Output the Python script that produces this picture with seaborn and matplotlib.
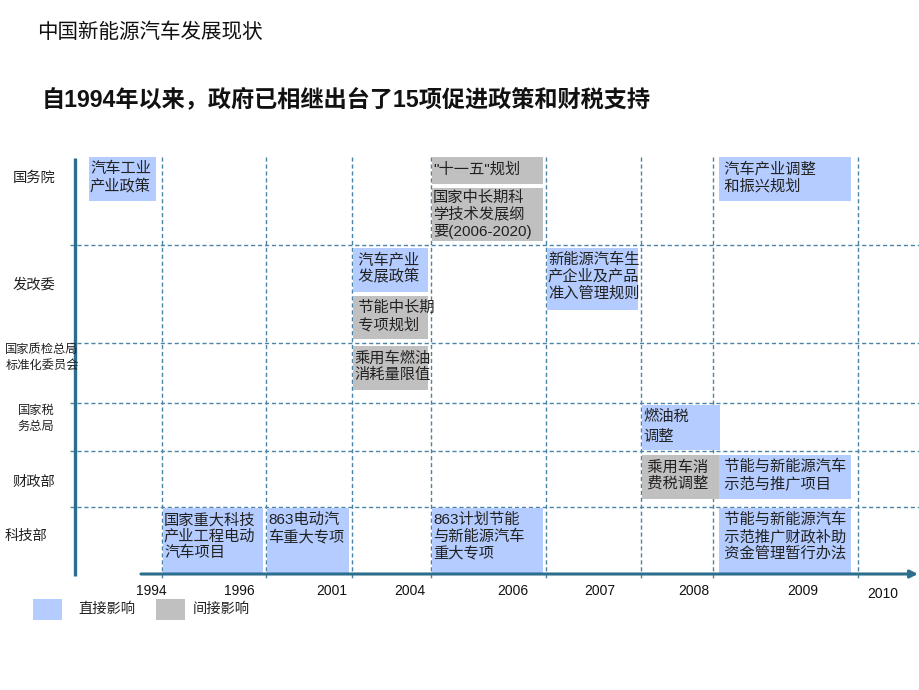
import matplotlib
matplotlib.use("Agg")
import matplotlib.pyplot as plt
import seaborn as sns
import pandas as pd

sns.set_theme(style="white")
plt.rcParams['font.family'] = ['Liberation Sans', 'Noto Sans CJK SC', 'DejaVu Sans']

# ---------------- data ----------------
title = "中国新能源汽车发展现状"
headline = "自1994年以来，政府已相继出台了15项促进政策和财税支持"

agencies = ["国务院", "发改委", "国家质检总局\n标准化委员会", "国家税\n务总局", "财政部", "科技部"]
years = ["1994", "1996", "2001", "2004", "2006", "2007", "2008", "2009", "2010"]

policy_text = [
    "汽车工业\n产业政策",
    "\"十一五\"规划",
    "国家中长期科\n学技术发展纲\n要(2006-2020)",
    " 汽车产业调整\n 和振兴规划",
    " 汽车产业\n 发展政策",
    " 节能中长期\n 专项规划",
    "新能源汽车生\n产企业及产品\n准入管理规则",
    "乘用车燃油\n消耗量限值",
    "燃油税\n调整",
    " 乘用车消\n 费税调整",
    " 节能与新能源汽车\n 示范与推广项目",
    " 节能与新能源汽车\n 示范推广财政补助\n 资金管理暂行办法",
    "国家重大科技\n产业工程电动\n汽车项目",
    "863电动汽\n车重大专项",
    "863计划节能\n与新能源汽车\n重大专项",
]
policy_agency = ["国务院", "国务院", "国务院", "国务院", "发改委", "发改委", "发改委",
                 "国家质检总局\n标准化委员会", "国家税\n务总局", "财政部", "财政部",
                 "科技部", "科技部", "科技部", "科技部"]
policy_year = ["1994", "2006", "2006", "2009", "2004", "2004", "2007", "2004",
               "2008", "2008", "2009", "2009", "1996", "2001", "2006"]
policy_type = ["直接影响", "间接影响", "间接影响", "直接影响", "直接影响", "间接影响", "直接影响",
               "间接影响", "直接影响", "间接影响", "直接影响", "直接影响", "直接影响", "直接影响", "直接影响"]
legend_labels = ["直接影响", "间接影响"]

df = pd.DataFrame({"text": policy_text, "agency": policy_agency,
                   "year": policy_year, "type": policy_type})

# ---------------- layout / style ----------------
COL_EDGES = [75, 162, 266, 352, 431, 546, 641, 713, 858, 920]
ROW_EDGES = [160, 245, 343, 403, 451, 507, 574]
ROW_BOX_OFFSET = [-3, 3, 3, 2, 4, 1]
YEAR_X = [151, 239, 332, 410, 513, 600, 694, 803, 883]
YEAR_Y = [591, 591, 591, 591, 591, 591, 591, 591, 594]
AGENCY_XY = [(34, 178), (34, 285), (42, 358), (36, 419), (34, 482), (26, 536)]
AGENCY_FS = [10.3, 10.3, 8.8, 8.8, 10.3, 10.3]
COLORS = {"直接影响": "#B4CCFF", "间接影响": "#C0C0C0"}
AXIS_C = "#2C6E8E"
GRID_C = "#4A84A6"
BOX_FS = 11
LINE_H = 17.5

fig = plt.figure(figsize=(9.2, 6.9), dpi=100)
ax = fig.add_axes([0, 0, 1, 1])
ax.set_xlim(0, 920)
ax.set_ylim(690, 0)
ax.axis("off")

# titles
ax.text(37, 32, title, fontsize=14.8, va="center", ha="left", color="#111111")
ax.text(42, 100, headline, fontsize=16.7, fontweight="bold", va="center", ha="left", color="#111111")

# grid
ax.vlines(COL_EDGES[1:-1], 157, 578, colors=GRID_C, linestyles=(0, (3, 2)), lw=1.0, zorder=1)
ax.hlines(ROW_EDGES[1:-1], 70, 920, colors=GRID_C, linestyles=(0, (3, 2)), lw=1.0, zorder=1)

# axes lines
ax.plot([75, 75], [158, 576], color=AXIS_C, lw=2.4, solid_capstyle="butt", zorder=3)
ax.annotate("", xy=(918, 574), xytext=(141, 574),
            arrowprops=dict(arrowstyle="-|>", color=AXIS_C, lw=2.2, mutation_scale=11,
                            shrinkA=0, shrinkB=0), zorder=3)

# agency labels
for (x, y), name, fs in zip(AGENCY_XY, agencies, AGENCY_FS):
    ax.text(x, y, name, fontsize=fs, ha="center", va="center", color="#222222", linespacing=1.35)

# year labels
for x, y, yr in zip(YEAR_X, YEAR_Y, years):
    ax.text(x, y, yr, fontsize=10, ha="center", va="center", color="#111111")

# policy boxes, stacked within each (agency, year) cell
cursor = {}
for _, r in df.iterrows():
    ri = agencies.index(r["agency"])
    ci = years.index(r["year"])
    left = COL_EDGES[ci] + (14 if ci == 0 else 1)
    right = COL_EDGES[ci + 1] - (6 if ci == 0 else 3)
    if ci == 6:
        right = COL_EDGES[ci + 1] + 7
    if ci == 7:
        left = COL_EDGES[ci] + 6
        right = COL_EDGES[ci + 1] - 7
    key = (ri, ci)
    top = cursor.get(key, ROW_EDGES[ri] + ROW_BOX_OFFSET[ri])
    n = r["text"].count("\n") + 1
    h = LINE_H * n + 9
    h = min(h, ROW_EDGES[ri + 1] - 4 - top)
    if ri == 5:
        h = ROW_EDGES[ri + 1] - top
    if ri == 3:
        h = ROW_EDGES[ri + 1] - top - 1
    cursor[key] = top + h + 4
    pad = 3 if n * LINE_H + 8 > h else 5
    ax.bar(left, h, width=right - left, bottom=top, align="edge",
           color=COLORS[r["type"]], edgecolor="none", zorder=2)
    ax.text(left + 1, top + pad, r["text"], fontsize=BOX_FS, ha="left", va="top",
            color="#222222", linespacing=1.18 if ri != 3 else 1.5, zorder=4)

# legend
LEG_X = [33, 156]
LEG_TX = [78, 193]
for lx, tx, lab in zip(LEG_X, LEG_TX, legend_labels):
    ax.bar(lx, 21, width=29, bottom=599, align="edge", color=COLORS[lab], edgecolor="none")
    ax.text(tx, 609, lab, fontsize=10.3, ha="left", va="center", color="#222222")

fig.savefig("out.png", dpi=100)
